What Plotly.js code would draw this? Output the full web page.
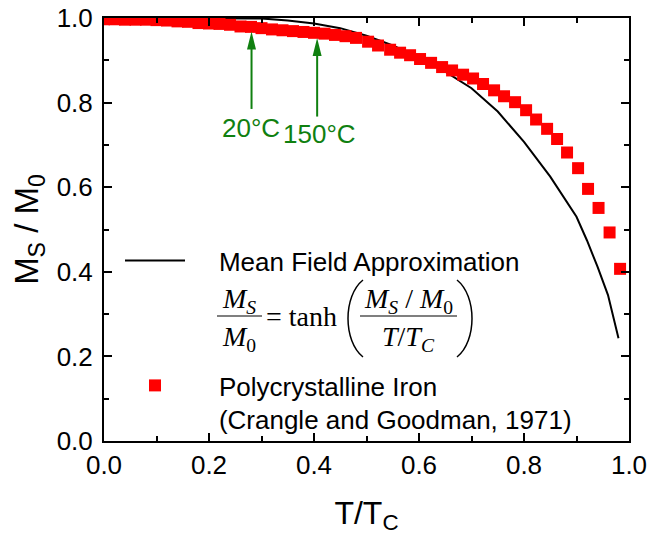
<!DOCTYPE html>
<html>
<head>
<meta charset="utf-8">
<script src="https://cdn.plot.ly/plotly-3.0.1.min.js"></script>
<style>html,body{margin:0;padding:0;background:#fff;}#chart{width:650px;height:540px;}</style>
</head>
<body>
<div id="chart"></div>
<script>
// ---- Data ----
const ironT = [0.00,0.02,0.04,0.06,0.08,0.10,0.12,0.14,0.16,0.18,0.20,0.22,0.24,0.26,0.28,0.30,0.32,0.34,0.36,0.38,0.40,0.42,0.44,0.46,0.48,
  0.503,0.522,0.545,0.564,0.583,0.602,0.623,0.644,0.663,0.684,0.703,0.722,0.743,0.762,0.783,0.804,0.823,0.844,0.863,0.882,0.903,0.922,0.942,0.963,0.983];
const ironM = [0.997,0.997,0.996,0.996,0.996,0.995,0.994,0.992,0.991,0.988,0.987,0.986,0.984,0.980,0.979,0.976,0.973,0.971,0.969,0.967,0.965,0.963,0.960,0.957,0.953,
  0.944,0.935,0.925,0.918,0.912,0.903,0.894,0.884,0.876,0.866,0.857,0.844,0.829,0.815,0.801,0.782,0.760,0.738,0.714,0.682,0.645,0.596,0.551,0.493,0.407];
const mfT = [0.00,0.10,0.20,0.30,0.35,0.40,0.45,0.50,0.55,0.60,0.65,0.70,0.75,0.80,0.85,0.90,0.92,0.94,0.96,0.98];
const mfM = [1.000,1.000,1.000,0.999,0.994,0.987,0.976,0.958,0.935,0.906,0.873,0.834,0.779,0.707,0.625,0.530,0.474,0.412,0.345,0.243];
const markLabels = ['20°C','150°C'];
const markT = [0.281, 0.406];
const markTip = [0.968, 0.953];
const markTail = [0.785, 0.767];
const xTicks = [0.0,0.2,0.4,0.6,0.8,1.0];
const xTickText = ['0.0','0.2','0.4','0.6','0.8','1.0'];
const yTicks = [0.0,0.2,0.4,0.6,0.8,1.0];
const yTickText = ['0.0','0.2','0.4','0.6','0.8','1.0'];
const lineName = 'Mean Field Approximation';
const ironName = 'Polycrystalline Iron<br>(Crangle and Goodman, 1971)';

// ---- helpers: pixel -> data (plot area 104..629 x 18..441, ranges [0,1]) ----
const L = 104, R = 629, T = 18, B = 441;
const px = p => (p - L) / (R - L);
const py = p => (B - p) / (B - T);

const SANS = 'Liberation Sans, Arial, Helvetica, sans-serif';
const SERIF = 'Liberation Serif, Times New Roman, serif';
const GREEN = '#108010';
const NB = '\u00A0';
const PAD = NB + NB + NB + NB; // gap between legend symbol and its text

const traces = [
  {x: mfT, y: mfM, type: 'scatter', mode: 'lines', name: PAD + lineName,
   line: {color: '#000', width: 2}, legend: 'legend'},
  {x: ironT, y: ironM, type: 'scatter', mode: 'markers', name: PAD + ironName.replace('<br>', '<br>' + PAD),
   marker: {symbol: 'square', size: 12, color: '#ff0000', line: {width: 0}}, legend: 'legend2'}
];

const shapes = [];
const annotations = [];
markT.forEach((t, i) => {
  shapes.push({type: 'line', xref: 'x', yref: 'y', x0: t, x1: t, y0: markTail[i], y1: markTip[i] - 0.02,
    line: {color: GREEN, width: 2}});
  shapes.push({type: 'path', xref: 'x', yref: 'y', xsizemode: 'pixel', ysizemode: 'pixel',
    xanchor: t, yanchor: markTip[i], path: 'M-4.5,-18L4.5,-18L0,0Z',
    fillcolor: GREEN, line: {width: 0}});
});
annotations.push({xref: 'x', yref: 'y', x: px(251), y: py(128), text: markLabels[0], showarrow: false,
  xanchor: 'center', yanchor: 'middle', font: {family: SANS, size: 26, color: GREEN}});
annotations.push({xref: 'x', yref: 'y', x: px(319.5), y: py(134), text: markLabels[1], showarrow: false,
  xanchor: 'center', yanchor: 'middle', font: {family: SANS, size: 26, color: GREEN}});

// formula  M_S/M_0 = tanh( (M_S/M_0) / (T/T_C) )
const fF = {family: SERIF, size: 28, color: '#000'};
const ann = (x, y, text, xa) => annotations.push({xref: 'x', yref: 'y', x: px(x), y: py(y), text: text,
  showarrow: false, xanchor: xa || 'center', yanchor: 'middle', font: fF});
ann(239, 300, '<i>M</i><sub><i>S</i></sub>');
ann(239, 338, '<i>M</i><sub>0</sub>');
ann(264, 316, '= tanh', 'left');
ann(408, 300, '<i>M</i><sub><i>S</i></sub> / <i>M</i><sub>0</sub>');
ann(408, 338, '<i>T</i>/<i>T</i><sub><i>C</i></sub>');
shapes.push({type: 'line', xref: 'x', yref: 'y', x0: px(217), x1: px(262), y0: py(316), y1: py(316), line: {color: '#000', width: 1.2}});
shapes.push({type: 'line', xref: 'x', yref: 'y', x0: px(360), x1: px(457), y0: py(316), y1: py(316), line: {color: '#000', width: 1.2}});
const paren = (x0, xc) => `M${px(x0)},${py(280)} C${px(xc)},${py(296)} ${px(xc)},${py(341)} ${px(x0)},${py(357)}`;
shapes.push({type: 'path', xref: 'x', yref: 'y', path: paren(363, 343), line: {color: '#000', width: 1.5}});
shapes.push({type: 'path', xref: 'x', yref: 'y', path: paren(457, 477), line: {color: '#000', width: 1.5}});

const axisCommon = {
  range: [0, 1], showline: true, linecolor: '#000', linewidth: 2, mirror: 'allticks',
  ticks: 'inside', ticklen: 8, tickwidth: 2, tickcolor: '#000', showgrid: false, zeroline: false,
  tickfont: {family: SANS, size: 26, color: '#000'},
  minor: {ticks: 'inside', ticklen: 5, tickwidth: 2, tickcolor: '#000', dtick: 0.1, showgrid: false},
  fixedrange: true
};

const layout = {
  width: 650, height: 540,
  margin: {l: L, r: 650 - R, t: T, b: 540 - B},
  paper_bgcolor: '#fff', plot_bgcolor: '#fff',
  font: {family: SANS, color: '#000'},
  xaxis: Object.assign({}, axisCommon, {tickvals: xTicks, ticktext: xTickText, ticklabelstandoff: 0,
    title: {text: 'T/T<sub>C</sub>', font: {family: SANS, size: 32, color: '#000'}, standoff: 22}}),
  yaxis: Object.assign({}, axisCommon, {tickvals: yTicks, ticktext: yTickText, ticklabelstandoff: 4,
    title: {text: 'M<sub>S</sub> / M<sub>0</sub>' + NB + NB + NB + NB, font: {family: SANS, size: 33, color: '#000'}, standoff: 8}}),
  showlegend: true,
  legend: {x: px(120), y: py(237), xanchor: 'left', yanchor: 'top', bgcolor: 'rgba(0,0,0,0)',
    font: {family: SANS, size: 26, color: '#000'}, itemwidth: 60, borderwidth: 0},
  legend2: {x: px(120), y: py(362), xanchor: 'left', yanchor: 'top', bgcolor: 'rgba(0,0,0,0)',
    font: {family: SANS, size: 26, color: '#000'}, itemwidth: 60, borderwidth: 0, valign: 'top'},
  shapes: shapes,
  annotations: annotations
};

Plotly.newPlot('chart', traces, layout, {displayModeBar: false, staticPlot: true});
</script>
</body>
</html>
